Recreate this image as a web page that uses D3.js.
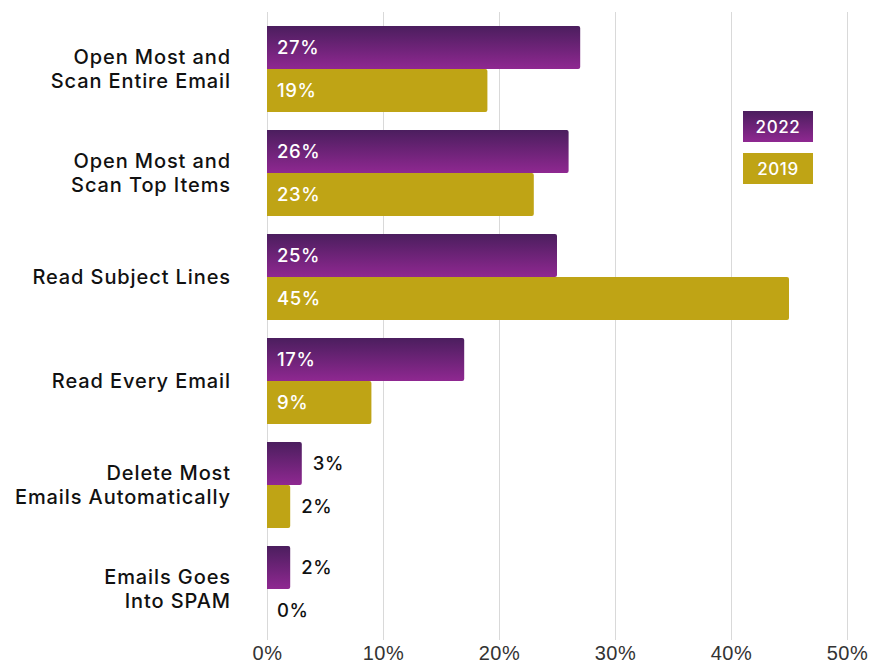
<!DOCTYPE html>
<html>
<head>
<meta charset="utf-8">
<script src="https://cdn.jsdelivr.net/npm/d3@7"></script>
<style>
  html, body { margin: 0; padding: 0; background: #fff; }
  svg { display: block; font-family: "Inter", "Lato", "Noto Sans", sans-serif; }
</style>
</head>
<body>
<svg id="chart" width="885" height="666"></svg>
<script>
// Email reading habits, share of respondents by year
const categories = [
  ["Open Most and", "Scan Entire Email"],
  ["Open Most and", "Scan Top Items"],
  ["Read Subject Lines"],
  ["Read Every Email"],
  ["Delete Most", "Emails Automatically"],
  ["Emails Goes", "Into SPAM"]
];
const seriesNames = ["2022", "2019"];
const values2022 = [27, 26, 25, 17, 3, 2];
const values2019 = [19, 23, 45, 9, 2, 0];
const tickValues = [0, 10, 20, 30, 40, 50];

const svg = d3.select("#chart");
const xLeft = 267, xRight = 847;
const yTop = 17, yBottom = 641;

const x = d3.scaleLinear().domain([0, 50]).range([xLeft, xRight]);
const y = d3.scaleBand().domain(d3.range(categories.length)).range([yTop, yBottom])
  .paddingInner(0.173).paddingOuter(0.0865);
const ySub = d3.scaleBand().domain(seriesNames).range([0, y.bandwidth()]);

// purple gradient for the 2022 bars
const defs = svg.append("defs");
const grad = defs.append("linearGradient").attr("id", "purpleGrad")
  .attr("x1", 0).attr("y1", 0).attr("x2", 0).attr("y2", 1);
grad.append("stop").attr("offset", "0%").attr("stop-color", "#4b1e5e");
grad.append("stop").attr("offset", "100%").attr("stop-color", "#8f2891");
const fills = { "2022": "url(#purpleGrad)", "2019": "#bfa415" };

// vertical gridlines and bottom tick labels
const gridBottom = 640, gridTop = 12;
const axis = d3.axisBottom(x).tickValues(tickValues).tickFormat(d => d + "%")
  .tickSize(-(gridBottom - gridTop)).tickPadding(0);
const gAxis = svg.append("g").attr("transform", `translate(0,${gridBottom})`).call(axis);
gAxis.select(".domain").remove();
gAxis.selectAll(".tick line").attr("stroke", "#d9d9d9").attr("stroke-width", 1);
gAxis.selectAll(".tick text").attr("fill", "#333").attr("font-size", 20)
  .attr("letter-spacing", 0.5).attr("y", 20).attr("dy", 0);

// bars
const rows = categories.map((c, i) => ({ i, vals: [
  { key: "2022", v: values2022[i] },
  { key: "2019", v: values2019[i] }
]}));

const gRow = svg.selectAll("g.row").data(rows).join("g").attr("class", "row")
  .attr("transform", d => `translate(0,${y(d.i)})`);

gRow.selectAll("path.bar").data(d => d.vals).join("path").attr("class", "bar")
  .attr("fill", d => fills[d.key])
  .attr("d", d => {
    const x0 = x(0), x1 = x(d.v), y0 = ySub(d.key), h = ySub.bandwidth();
    if (x1 - x0 < 1) return "";
    const r = Math.min(2, (x1 - x0) / 2);
    return `M${x0},${y0}H${x1 - r}Q${x1},${y0} ${x1},${y0 + r}V${y0 + h - r}Q${x1},${y0 + h} ${x1 - r},${y0 + h}H${x0}Z`;
  });

// value labels: inside for wide bars, outside for short ones
gRow.selectAll("text.val").data(d => d.vals).join("text").attr("class", "val")
  .attr("x", d => d.v >= 8 ? x(0) + 10 : (d.v === 0 ? x(0) + 10 : x(d.v) + 11))
  .attr("y", d => ySub(d.key) + ySub.bandwidth() / 2)
  .attr("dy", "0.36em")
  .attr("font-size", 18.5)
  .attr("font-weight", 500)
  .attr("letter-spacing", 0.6)
  .attr("fill", d => d.v >= 8 ? "#fff" : "#111")
  .text(d => d.v + "%");

// category labels
const labels = svg.selectAll("text.cat").data(categories).join("text").attr("class", "cat")
  .attr("text-anchor", "end").attr("font-size", 20).attr("font-weight", 500)
  .attr("letter-spacing", 0.9).attr("fill", "#111")
  .attr("transform", (d, i) => `translate(231,${y(i) + y.bandwidth() / 2})`);
labels.selectAll("tspan").data(d => d.map((t, j) => ({ t, j, n: d.length }))).join("tspan")
  .attr("x", 0)
  .attr("y", d => (d.j - (d.n - 1) / 2) * 24)
  .attr("dy", "0.36em")
  .text(d => d.t);

// legend
const legend = svg.append("g").attr("transform", "translate(743,111)");
const lg = legend.selectAll("g").data(seriesNames).join("g")
  .attr("transform", (d, i) => `translate(0,${i * 42})`);
lg.append("rect").attr("width", 70).attr("height", 31).attr("fill", d => fills[d]);
lg.append("text").attr("x", 35).attr("y", 16).attr("dy", "0.36em")
  .attr("text-anchor", "middle").attr("fill", "#fff").attr("font-size", 17)
  .attr("font-weight", 500).attr("letter-spacing", 0.6)
  .text(d => d);
</script>
</body>
</html>
